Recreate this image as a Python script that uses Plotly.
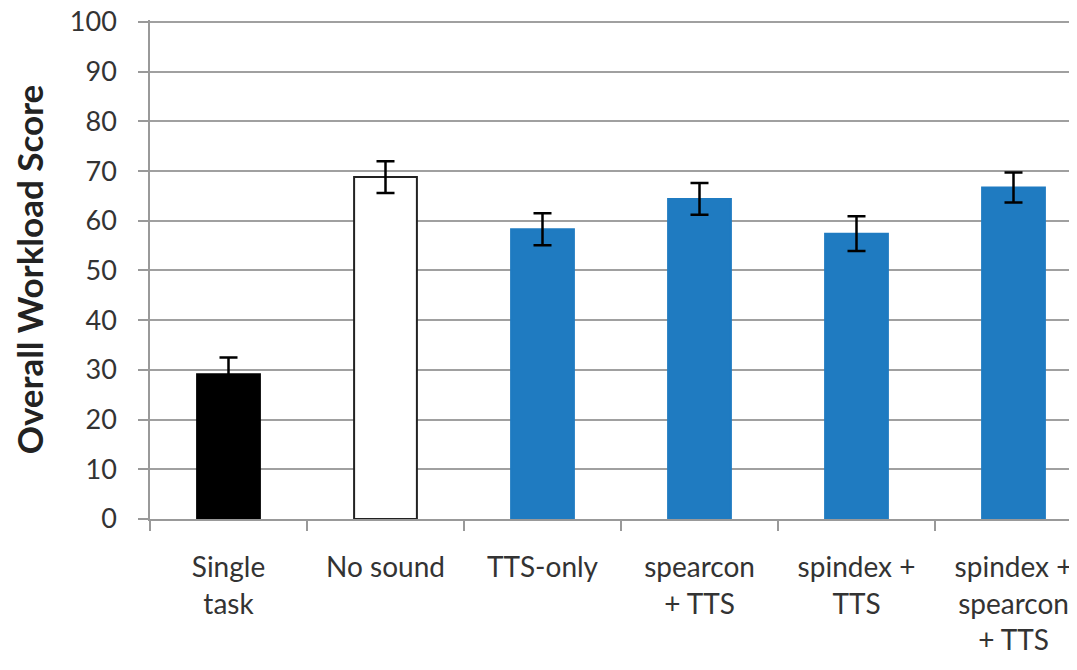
import plotly.graph_objects as go

categories = ["Single<br>task", "No sound", "TTS-only", "spearcon<br>+ TTS",
              "spindex +<br>TTS", "spindex +<br>spearcon<br>+ TTS"]
values = [29.1, 68.8, 58.3, 64.4, 57.4, 66.7]
errors = [3.4, 3.2, 3.2, 3.2, 3.5, 3.0]
fill_colors = ["#000000", "#ffffff", "#1f7bc1", "#1f7bc1", "#1f7bc1", "#1f7bc1"]
line_colors = ["#000000", "#222222", "#1f7bc1", "#1f7bc1", "#1f7bc1", "#1f7bc1"]
y_ticks = list(range(0, 101, 10))

font_family = "Lato, 'Open Sans', sans-serif"

fig = go.Figure()
fig.add_trace(go.Bar(
    x=categories, y=values,
    marker=dict(color=fill_colors, line=dict(color=line_colors, width=2)),
    error_y=dict(type="data", array=errors, color="#000000", thickness=2.5, width=9),
    width=0.4,
))

fig.update_layout(
    width=1084, height=662,
    margin=dict(l=142, r=0, t=12, b=151),
    paper_bgcolor="white", plot_bgcolor="white",
    showlegend=False,
    font=dict(family=font_family, color="#333333"),
    xaxis=dict(
        range=[-0.5, 5.5], automargin=False,
        showline=True, linecolor="#999999", linewidth=1.5,
        ticks="outside", tickson="boundaries", ticklen=10, tickcolor="#999999", tickwidth=1.5,
        tickfont=dict(size=28, color="#333333"),
        ticklabelstandoff=23, ticklabeloverflow="allow",
        showgrid=False,
    ),
    yaxis=dict(
        range=[0, 100.4], tickvals=y_ticks, automargin=False,
        showline=True, linecolor="#999999", linewidth=1.5,
        ticks="outside", ticklen=10, tickcolor="#999999", tickwidth=1.5,
        showgrid=True, gridcolor="#a0a0a0", gridwidth=1.5,
        tickfont=dict(size=27, color="#333333"),
        ticklabelstandoff=16, ticklabeloverflow="allow",
        title=dict(text="<b>Overall Workload Score</b>", font=dict(size=35, color="#222222"), standoff=17),
        zeroline=False,
    ),
)

fig.write_html("out.html")
